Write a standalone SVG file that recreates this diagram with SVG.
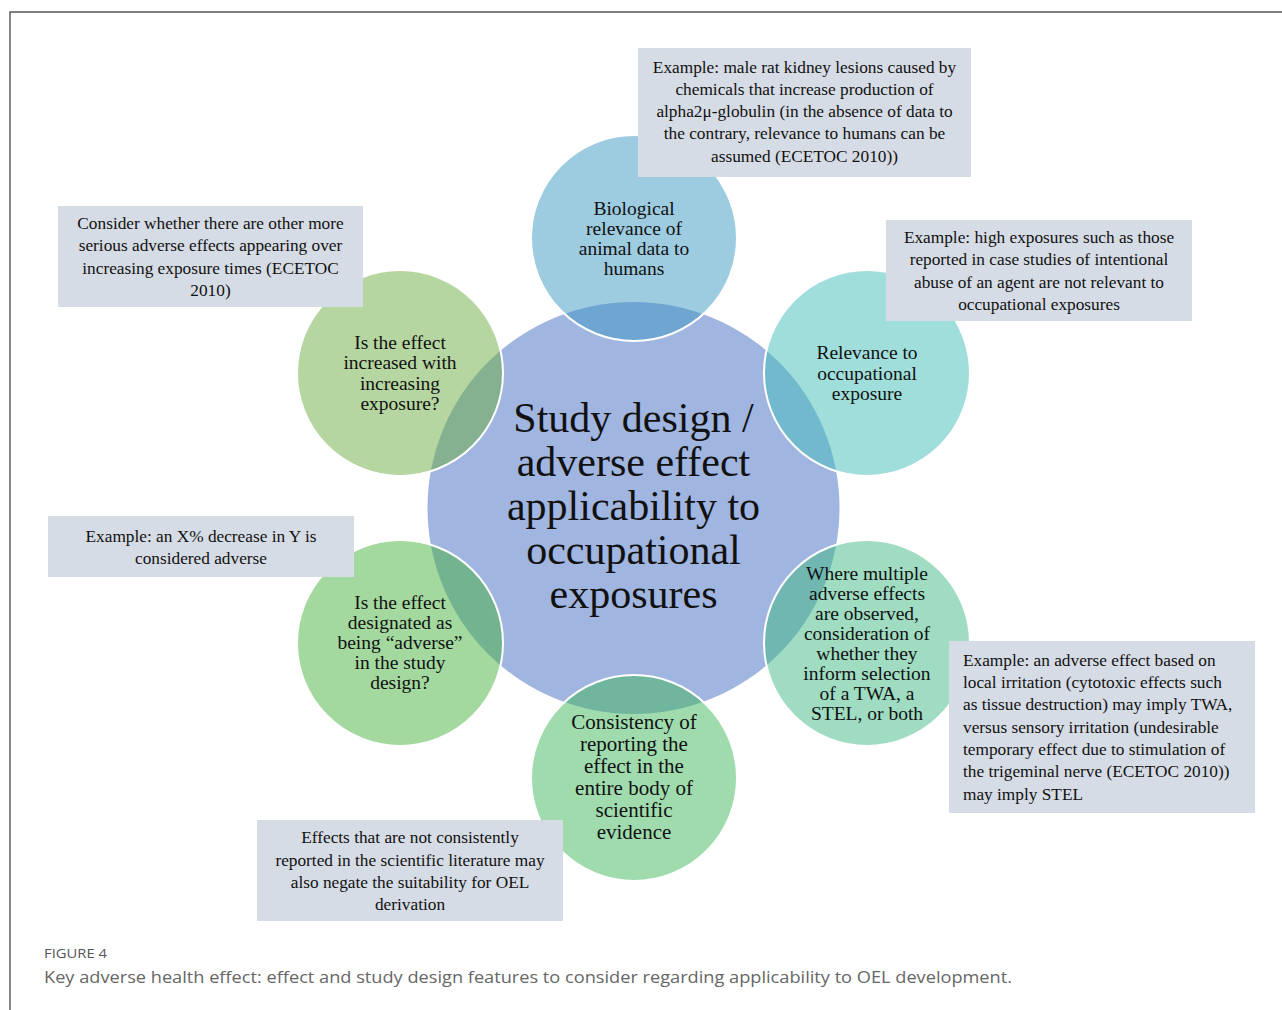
<svg xmlns="http://www.w3.org/2000/svg" width="1282" height="1010" viewBox="0 0 1282 1010">
  <style>
    .frame { stroke: #555; stroke-width: 1.4; fill: none; }
    .hub { fill: #a0b5e0; }
    .sat { fill-opacity: 0.5; stroke: #fff; stroke-width: 2; }
    .box { fill: #d6dce5; }
    .hubtxt { font-family: "Liberation Serif", "Times New Roman", serif; font-size: 42px; fill: #111; text-anchor: middle; }
    .sattxt { font-family: "Liberation Serif", "Times New Roman", serif; font-size: 19.5px; fill: #111; text-anchor: middle; }
    .boxtxt { font-family: "Liberation Serif", "Times New Roman", serif; font-size: 17.3px; fill: #111; text-anchor: middle; }
    .boxtxt.left { text-anchor: start; }
    .figlabel { font-family: "Open Sans", "Liberation Sans", sans-serif; font-size: 13.5px; fill: #555; }
    .caption { font-family: "Open Sans", "Liberation Sans", sans-serif; font-size: 17px; fill: #666; }
  </style>

  <rect width="1282" height="1010" fill="#fff"/>
  <!-- figure frame -->
  <path class="frame" d="M10,1010 V12 H1282"/>

  <!-- central hub -->
  <g id="hub">
    <circle class="hub" cx="633.5" cy="508" r="206"/>
  </g>

  <!-- satellite circles -->
  <g id="sat-biological">
    <circle class="sat" cx="634" cy="238" r="103" fill="#3b97c1"/>
    <text class="sattxt"><tspan x="634" y="215">Biological</tspan><tspan x="634" y="235">relevance of</tspan><tspan x="634" y="255">animal data to</tspan><tspan x="634" y="275">humans</tspan></text>
  </g>
  <g id="sat-relevance">
    <circle class="sat" cx="867" cy="373" r="103" fill="#41bdb7"/>
    <text class="sattxt"><tspan x="867" y="359">Relevance to</tspan><tspan x="867" y="380">occupational</tspan><tspan x="867" y="400">exposure</tspan></text>
  </g>
  <g id="sat-multiple">
    <circle class="sat" cx="867" cy="643" r="103" fill="#3fb983"/>
    <text class="sattxt"><tspan x="867" y="580">Where multiple</tspan><tspan x="867" y="600">adverse effects</tspan><tspan x="867" y="620">are observed,</tspan><tspan x="867" y="640">consideration of</tspan><tspan x="867" y="660">whether they</tspan><tspan x="867" y="680">inform selection</tspan><tspan x="867" y="700">of a TWA, a</tspan><tspan x="867" y="720">STEL, or both</tspan></text>
  </g>
  <g id="sat-consistency">
    <circle class="sat" cx="634" cy="778" r="103" fill="#3fb75b"/>
    <text class="sattxt" style="font-size:21px"><tspan x="634" y="729">Consistency of</tspan><tspan x="634" y="751">reporting the</tspan><tspan x="634" y="773">effect in the</tspan><tspan x="634" y="795">entire body of</tspan><tspan x="634" y="817">scientific</tspan><tspan x="634" y="839">evidence</tspan></text>
  </g>
  <g id="sat-designated">
    <circle class="sat" cx="400" cy="643" r="103" fill="#47b13f"/>
    <text class="sattxt"><tspan x="400" y="609">Is the effect</tspan><tspan x="400" y="629">designated as</tspan><tspan x="400" y="649">being “adverse”</tspan><tspan x="400" y="669">in the study</tspan><tspan x="400" y="689">design?</tspan></text>
  </g>
  <g id="sat-increased">
    <circle class="sat" cx="400" cy="373" r="103" fill="#6bad41"/>
    <text class="sattxt"><tspan x="400" y="349">Is the effect</tspan><tspan x="400" y="369">increased with</tspan><tspan x="400" y="390">increasing</tspan><tspan x="400" y="410">exposure?</tspan></text>
  </g>

  <!-- hub label -->
  <g id="hub-label">
    <text class="hubtxt"><tspan x="633.5" y="432">Study design /</tspan><tspan x="633.5" y="476">adverse effect</tspan><tspan x="633.5" y="520">applicability to</tspan><tspan x="633.5" y="564">occupational</tspan><tspan x="633.5" y="608">exposures</tspan></text>
  </g>

  <!-- note boxes -->
  <g id="note-biological">
    <rect class="box" x="638" y="48" width="333" height="129"/>
    <text class="boxtxt"><tspan x="804.5" y="73">Example: male rat kidney lesions caused by</tspan><tspan x="804.5" y="95">chemicals that increase production of</tspan><tspan x="804.5" y="117">alpha2μ-globulin (in the absence of data to</tspan><tspan x="804.5" y="139">the contrary, relevance to humans can be</tspan><tspan x="804.5" y="162">assumed (ECETOC 2010))</tspan></text>
  </g>
  <g id="note-increased">
    <rect class="box" x="58" y="206" width="305" height="101"/>
    <text class="boxtxt"><tspan x="210.5" y="229">Consider whether there are other more</tspan><tspan x="210.5" y="251">serious adverse effects appearing over</tspan><tspan x="210.5" y="274">increasing exposure times (ECETOC</tspan><tspan x="210.5" y="296">2010)</tspan></text>
  </g>
  <g id="note-relevance">
    <rect class="box" x="886" y="220" width="306" height="101"/>
    <text class="boxtxt"><tspan x="1039" y="243">Example: high exposures such as those</tspan><tspan x="1039" y="265">reported in case studies of intentional</tspan><tspan x="1039" y="288">abuse of an agent are not relevant to</tspan><tspan x="1039" y="310">occupational exposures</tspan></text>
  </g>
  <g id="note-designated">
    <rect class="box" x="48" y="516" width="306" height="61"/>
    <text class="boxtxt"><tspan x="201" y="542">Example: an X% decrease in Y is</tspan><tspan x="201" y="564">considered adverse</tspan></text>
  </g>
  <g id="note-multiple">
    <rect class="box" x="949" y="641" width="306" height="172"/>
    <text class="boxtxt left"><tspan x="963" y="666">Example: an adverse effect based on</tspan><tspan x="963" y="688">local irritation (cytotoxic effects such</tspan><tspan x="963" y="710">as tissue destruction) may imply TWA,</tspan><tspan x="963" y="733">versus sensory irritation (undesirable</tspan><tspan x="963" y="755">temporary effect due to stimulation of</tspan><tspan x="963" y="777">the trigeminal nerve (ECETOC 2010))</tspan><tspan x="963" y="800">may imply STEL</tspan></text>
  </g>
  <g id="note-consistency">
    <rect class="box" x="257" y="820" width="306" height="101"/>
    <text class="boxtxt"><tspan x="410" y="843">Effects that are not consistently</tspan><tspan x="410" y="866">reported in the scientific literature may</tspan><tspan x="410" y="888">also negate the suitability for OEL</tspan><tspan x="410" y="910">derivation</tspan></text>
  </g>

  <!-- no connectors: satellites touch the hub directly -->
  <g id="connectors"/>

  <!-- caption -->
  <text class="figlabel" x="44" y="958" textLength="63" lengthAdjust="spacingAndGlyphs">FIGURE 4</text>
  <text class="caption" x="44" y="983" textLength="968" lengthAdjust="spacingAndGlyphs">Key adverse health effect: effect and study design features to consider regarding applicability to OEL development.</text>
</svg>
